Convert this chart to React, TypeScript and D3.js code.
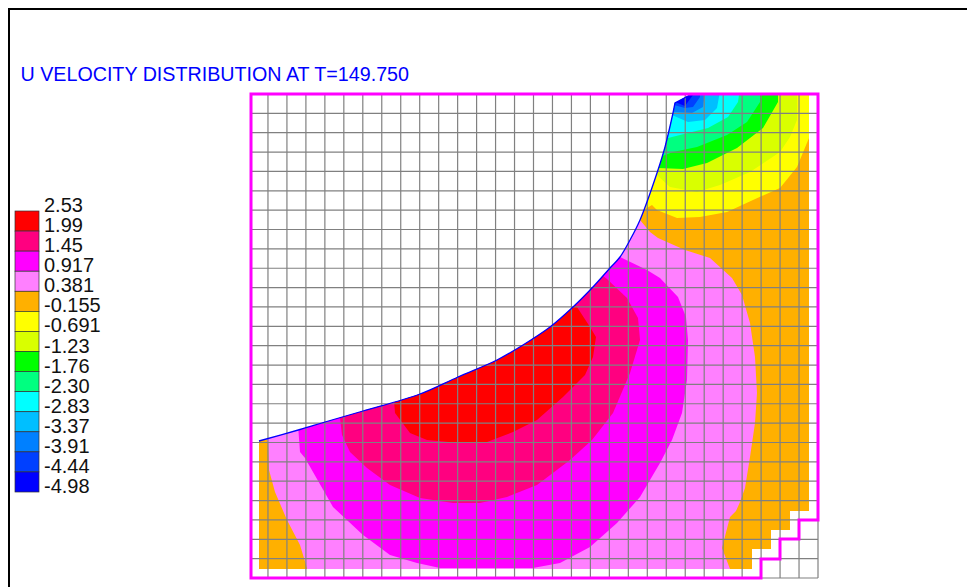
import React from "react";
import * as d3 from "d3";

type Pt = [number, number];

const TITLE = "U VELOCITY DISTRIBUTION AT T=149.750";
const legendLabels = ["2.53", "1.99", "1.45", "0.917", "0.381", "-0.155", "-0.691", "-1.23", "-1.76", "-2.30", "-2.83", "-3.37", "-3.91", "-4.44", "-4.98"];
const legendColors = ["#ff0000", "#ff0080", "#ff00ff", "#ff80ff", "#ffb000", "#ffff00", "#d9ff00", "#00ff00", "#00ff80", "#00ffff", "#00bfff", "#0080ff", "#0040ff", "#0000ff"];

// Model coordinates: x rightward, y downward
const xDomain: Pt = [51, 618];
const yDomain: Pt = [-6, 478];
const gridXStart = 49;
const gridCols = 30;
const gridRows = 25;

const wallCurve: Pt[] = [[59, 341], [100, 329.5], [125, 322], [163, 311], [220, 294], [258, 277], [297, 260], [323, 245], [350, 227], [373, 207], [392, 188], [410, 168], [420, 157], [430, 140], [440, 120], [457, 73], [465, 47], [473, 13]];
const wallTip: Pt[] = [[475, 3], [490, -5]];

const outerBoundary: Pt[] = [[51, -6], [618, -6], [618, 420], [599, 420], [599, 439], [580, 439], [580, 459], [561, 459], [561, 478], [51, 478]];

const wetSteps: Pt[] = [[609, -5], [609, 411], [590, 411], [590, 430], [571, 430], [571, 449], [552, 449], [552, 469], [59, 469]];

const bandPink: Pt[] = [[40, 300], [68, 342], [69, 370], [75, 392], [87, 420], [100, 445], [107, 468], [107, 490], [530, 490], [530, 469], [522, 448], [530, 417], [536, 411], [540, 402], [545, 388], [550, 357], [555, 323], [557, 293], [555, 257], [550, 223], [542, 195], [532, 178], [510, 158], [485, 150], [458, 138], [450, 132], [440, 120], [430, 100]];
const bandMagenta: Pt[] = [[290, 200], [98, 325], [100, 352], [105, 358], [133, 407], [163, 435], [190, 455], [217, 463], [240, 468], [333, 468], [360, 463], [390, 447], [417, 423], [440, 397], [460, 363], [472, 340], [482, 313], [487, 280], [488, 240], [486, 217], [478, 197], [460, 178], [447, 170], [420, 157], [405, 140]];
const bandRose: Pt[] = [[340, 150], [140, 318], [142, 335], [150, 352], [167, 368], [190, 385], [220, 398], [253, 403], [280, 403], [307, 397], [337, 385], [370, 360], [392, 340], [413, 313], [430, 273], [440, 240], [438, 218], [427, 198], [407, 179], [395, 170]];
const bandRed: Pt[] = [[370, 190], [194, 300], [195, 313], [210, 333], [227, 340], [260, 343], [287, 342], [313, 332], [337, 320], [363, 297], [385, 275], [393, 257], [396, 237], [390, 227], [377, 207], [370, 195]];

const bandYellow: Pt[] = [[430, 118], [452, 105], [457, 110], [477, 118], [500, 117], [527, 112], [553, 100], [580, 88], [597, 67], [609, 38], [630, -20], [440, -20]];
const bandLime: Pt[] = [[440, 75], [457, 75], [470, 87], [497, 92], [520, 85], [550, 72], [580, 52], [590, 37], [597, 20], [597, -20], [440, -20]];
const bandGreen: Pt[] = [[440, 68], [458, 68], [483, 69], [507, 63], [537, 48], [563, 28], [578, 2], [578, -20], [440, -20]];
const bandSpring: Pt[] = [[440, 57], [460, 57], [473, 52], [497, 47], [527, 35], [547, 22], [560, 2], [560, -20], [440, -20]];
const bandCyan: Pt[] = [[440, 38], [468, 38], [488, 33], [508, 28], [528, 17], [538, 2], [541, -20], [440, -20]];
const bandSky: Pt[] = [[440, 15], [472, 15], [488, 22], [505, 20], [517, 8], [522, -20], [440, -20]];
const bandAzure: Pt[] = [[440, 12], [473, 12], [492, 13], [503, 7], [507, -20], [440, -20]];
const bandCobalt: Pt[] = [[440, 5], [474, 5], [485, 8], [493, 7], [500, -3], [500, -20], [440, -20]];
const bandBlue: Pt[] = [[440, 2], [475, 2], [485, 6], [493, -5], [493, -20], [440, -20]];

const bandsInOrder: [Pt[], string][] = [
  [bandPink, "#ff80ff"], [bandMagenta, "#ff00ff"], [bandRose, "#ff0080"], [bandRed, "#ff0000"],
  [bandYellow, "#ffff00"], [bandLime, "#d9ff00"], [bandGreen, "#00ff00"], [bandSpring, "#00ff80"], [bandCyan, "#00ffff"],
  [bandSky, "#00bfff"], [bandAzure, "#0080ff"], [bandCobalt, "#0040ff"], [bandBlue, "#0000ff"],
];

const W = 967;
const H = 587;
const FONT = "'Liberation Sans', Arial, sans-serif";

export default function App() {
  const x = d3.scaleLinear().domain(xDomain).range([251, 818]);
  const y = d3.scaleLinear().domain(yDomain).range([94, 578]);
  const straight = d3.line<Pt>().x((d) => x(d[0])).y((d) => y(d[1]));
  const smooth = d3.line<Pt>().x((d) => x(d[0])).y((d) => y(d[1])).curve(d3.curveCatmullRom.alpha(0.5));
  const polygon = d3.line<Pt>().x((d) => x(d[0])).y((d) => y(d[1])).curve(d3.curveLinearClosed);
  const wallPath = (smooth(wallCurve) ?? "") + wallTip.map((p) => `L${x(p[0])},${y(p[1])}`).join("");
  const wetPath = wallPath + wetSteps.map((p) => `L${x(p[0])},${y(p[1])}`).join("") + "Z";

  const colStep = (xDomain[1] - gridXStart) / gridCols;
  const rowStep = (yDomain[1] - yDomain[0]) / gridRows;
  const cols = d3.range(1, gridCols + 1).map((i) => gridXStart + i * colStep);
  const rows = d3.range(gridRows + 1).map((i) => yDomain[0] + i * rowStep);

  const legend = d3.scaleBand<number>().domain(d3.range(legendColors.length)).range([211, 492]);

  return (
    <svg width={W} height={H} style={{ position: "absolute", left: 0, top: 0, display: "block", background: "#fff" }}>
      <defs>
        <clipPath id="wet"><path d={wetPath} /></clipPath>
      </defs>
      <path d={`M9,${H}V9H${W}`} fill="none" stroke="#000" strokeWidth={2} />
      <text x={20.5} y={81} fontFamily={FONT} fontSize={20} fill="#0000ff" textLength={388.5} lengthAdjust="spacingAndGlyphs">{TITLE}</text>

      {legendColors.map((c, i) => (
        <rect key={c} x={15} y={legend(i)} width={24} height={legend.bandwidth()} fill={c} stroke="#333" strokeWidth={0.7} />
      ))}
      {legendLabels.map((t, i) => (
        <text key={t} x={44} y={212 + i * legend.step()} fontFamily={FONT} fontSize={20} fill="#111">{t}</text>
      ))}

      <g clipPath="url(#wet)">
        <path d={wetPath} fill="#ffb000" />
        {bandsInOrder.map(([pts, c]) => <path key={c} d={polygon(pts) ?? ""} fill={c} />)}
      </g>

      <g stroke="#808080" strokeWidth={1.2}>
        {cols.map((c) => <line key={c} x1={x(c)} x2={x(c)} y1={y(yDomain[0])} y2={y(yDomain[1])} />)}
        {rows.map((r) => <line key={r} y1={y(r)} y2={y(r)} x1={x(xDomain[0])} x2={x(xDomain[1])} />)}
      </g>

      <path d={wallPath} fill="none" stroke="#0000ff" strokeWidth={1.3} />
      <path d={(straight(outerBoundary) ?? "") + "Z"} fill="none" stroke="#ff00ff" strokeWidth={3} />
    </svg>
  );
}
